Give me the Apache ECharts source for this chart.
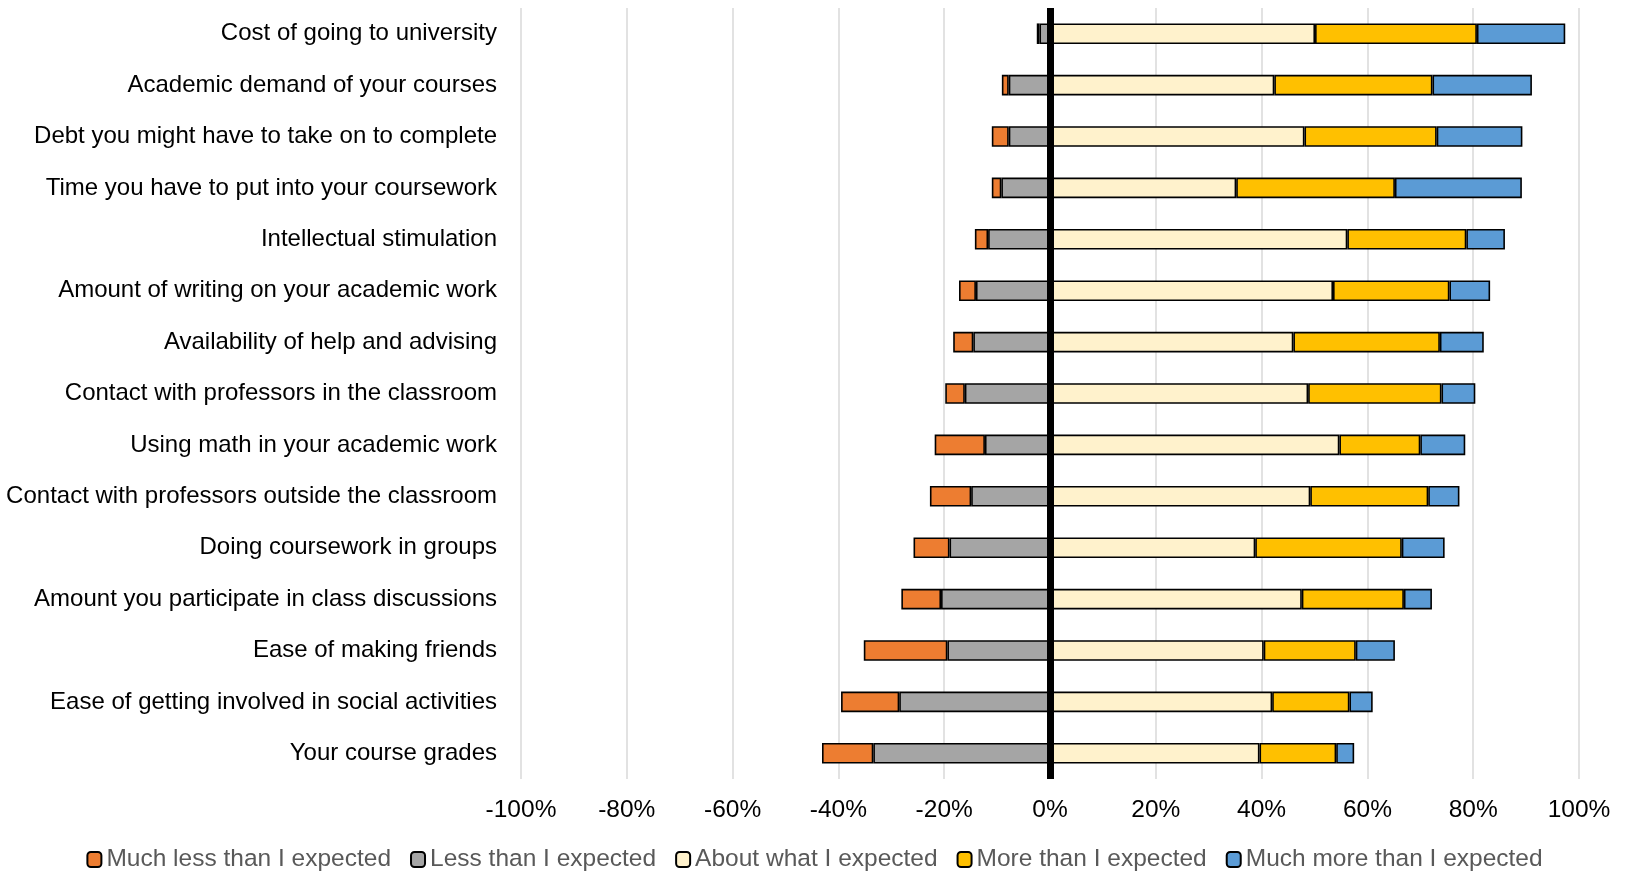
<!DOCTYPE html>
<html>
<head>
<meta charset="utf-8">
<title>University expectations</title>
<script src="https://cdn.jsdelivr.net/npm/echarts@6/dist/echarts.min.js"></script>
<style>
  html, body { margin: 0; padding: 0; background: #ffffff; }
  #chart { width: 1629px; height: 873px; }
</style>
</head>
<body>
<div id="chart"></div>
<script>
// Survey items, listed top to bottom
const categories = [
  'Cost of going to university',
  'Academic demand of your courses',
  'Debt you might have to take on to complete',
  'Time you have to put into your coursework',
  'Intellectual stimulation',
  'Amount of writing on your academic work',
  'Availability of help and advising',
  'Contact with professors in the classroom',
  'Using math in your academic work',
  'Contact with professors outside the classroom',
  'Doing coursework in groups',
  'Amount you participate in class discussions',
  'Ease of making friends',
  'Ease of getting involved in social activities',
  'Your course grades'
];

// Share of respondents (%) per answer
const muchLess = [0.5, 1.3, 3.2, 1.8, 2.5, 3.2, 3.8, 3.7, 9.5, 7.8, 6.8, 7.5, 15.8, 11.0, 9.7];
const less     = [2.0, 7.8, 7.8, 9.2, 11.7, 14.0, 14.5, 16.1, 12.3, 14.9, 19.0, 20.6, 19.4, 28.5, 33.4];
const about    = [50.1, 42.4, 48.1, 35.2, 56.2, 53.5, 46.0, 48.8, 54.7, 49.2, 38.8, 47.6, 40.4, 42.0, 39.6];
const more     = [30.6, 29.9, 25.0, 30.0, 22.5, 22.0, 27.7, 25.2, 15.3, 22.3, 27.7, 19.3, 17.4, 14.6, 14.5];
const muchMore = [16.7, 18.8, 16.2, 24.0, 7.3, 7.7, 8.3, 6.4, 8.5, 5.9, 8.1, 5.3, 7.4, 4.4, 3.4];

const legendNames = [
  'Much less than I expected',
  'Less than I expected',
  'About what I expected',
  'More than I expected',
  'Much more than I expected'
];

const FONT = '"Liberation Sans", Arial, Helvetica, sans-serif';

function barSeries(name, values, color, extra) {
  return Object.assign({
    name: name,
    type: 'bar',
    stack: 'total',
    barWidth: '40%',
    data: values,
    itemStyle: { color: color, borderColor: '#000000', borderWidth: 1.6 },
    emphasis: { disabled: true }
  }, extra || {});
}

const chart = echarts.init(document.getElementById('chart'), null, { renderer: 'canvas' });

chart.setOption({
  animation: false,
  backgroundColor: '#ffffff',
  grid: { left: 521, right: 50, top: 8, bottom: 94, containLabel: false },
  xAxis: {
    type: 'value',
    min: -100,
    max: 100,
    interval: 20,
    axisLine: { show: false },
    axisTick: { show: false },
    axisLabel: {
      formatter: '{value}%',
      color: '#000000',
      fontSize: 24.5,
      fontFamily: FONT,
      margin: 19
    },
    splitLine: { show: true, lineStyle: { color: '#D9D9D9', width: 1.5 } }
  },
  yAxis: {
    type: 'category',
    data: categories,
    inverse: true,
    axisLine: { show: false },
    axisTick: { show: false },
    axisLabel: {
      color: '#000000',
      fontSize: 24,
      fontFamily: FONT,
      margin: 24
    },
    splitLine: { show: false }
  },
  legend: {
    data: legendNames,
    bottom: -4,
    left: 'center',
    itemWidth: 14,
    itemHeight: 15,
    itemGap: 19,
    textStyle: { color: '#595959', fontSize: 24.5, fontFamily: FONT },
    selectedMode: false
  },
  series: [
    barSeries('Less than I expected', less.map(v => -v), '#A5A5A5'),
    barSeries('Much less than I expected', muchLess.map(v => -v), '#ED7D31'),
    barSeries('About what I expected', about, '#FFF2CC'),
    barSeries('More than I expected', more, '#FFC000'),
    barSeries('Much more than I expected', muchMore, '#5B9BD5', {
      markLine: {
        silent: true,
        symbol: ['none', 'none'],
        label: { show: false },
        lineStyle: { color: '#000000', width: 7, type: 'solid' },
        data: [{ xAxis: 0 }]
      }
    })
  ]
});
</script>
</body>
</html>
